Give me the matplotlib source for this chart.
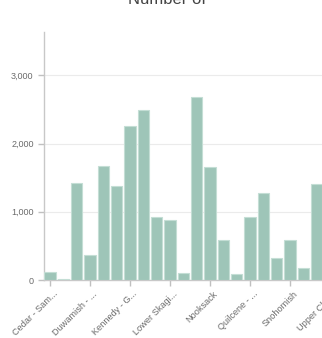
""" bar chart of counts per watershed """

import matplotlib
matplotlib.use("Agg")
import matplotlib.pyplot
import matplotlib.ticker
import matplotlib.transforms
import numpy

# bar heights (only the visible part of the chart)
counts = [117, 20, 1420, 366, 1673, 1385, 2264, 2493, 922, 873, 102,
          2679, 1659, 590, 88, 922, 1268, 326, 590, 180, 1400]
tick_positions = [0, 3, 6, 9, 12, 15, 18, 21]
tick_labels = ["Cedar - Sam...", "Duwamish - ...", "Kennedy - G...", "Lower Skagi...",
               "Nooksack", "Quilcene - ...", "Snohomish", "Upper Che..."]
y_ticks = [0, 1000, 2000, 3000]

W, H = 322, 338

matplotlib.pyplot.rcParams["font.family"] = ["Liberation Sans", "DejaVu Sans"]

fig = matplotlib.pyplot.figure(figsize=(W / 100, H / 100), dpi=100)
# axes run past the right edge, the original chart is clipped there
left, right, top, bottom = 44, 340, 32, 280
ax = fig.add_axes([left / W, 1 - bottom / H, (right - left) / W, (bottom - top) / H])

indexes = numpy.arange(len(counts))
ax.bar(indexes, counts, 0.85, color="#9ec5b8", edgecolor="#c4ded5", linewidth=0.8, zorder=3)

ax.set_xlim(-0.45, 21.75)
ax.set_ylim(0, 3635)

ax.set_yticks(y_ticks)
ax.yaxis.set_major_formatter(matplotlib.ticker.FuncFormatter(lambda v, p: "{:,.0f}".format(v)))
ax.grid(axis="y", color="#ebebeb", linewidth=0.8, zorder=0)

ax.set_xticks(tick_positions)
ax.set_xticklabels(tick_labels, rotation=45, ha="right", va="center", rotation_mode="anchor")

for side in ["top", "right"]:
    ax.spines[side].set_visible(False)
for side in ["left", "bottom"]:
    ax.spines[side].set_color("#c8c8c8")
    ax.spines[side].set_linewidth(1.0)

ax.tick_params(axis="both", colors="#c0c0c0", labelcolor="#6b6b6b", labelsize=6.5, length=4, width=1)
ax.tick_params(axis="x", labelsize=6.6, pad=0)

# nudge the rotated labels to the right and down like the original
shift = matplotlib.transforms.ScaledTranslation(6 / 100, -7 / 100, fig.dpi_scale_trans)
for label in ax.get_xticklabels():
    label.set_transform(label.get_transform() + shift)

fig.text(167 / W, 1 - 0 / H, "Number of", ha="center", va="center", fontsize=12, color="#444444")

matplotlib.pyplot.savefig("out.png", dpi=100)
matplotlib.pyplot.close()
